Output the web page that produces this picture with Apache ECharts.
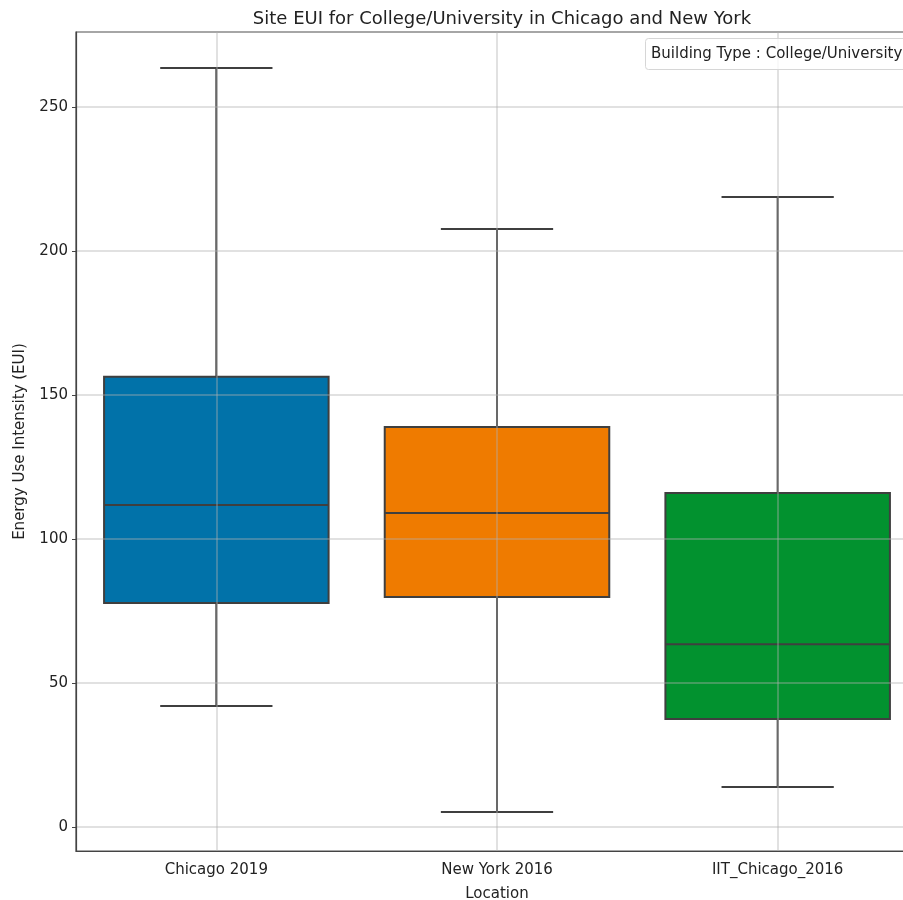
<!DOCTYPE html>
<html>
<head>
<meta charset="utf-8">
<script src="https://cdn.jsdelivr.net/npm/echarts@6/dist/echarts.min.js"></script>
<style>
  html, body { margin: 0; padding: 0; background: #fff; overflow: hidden; }
  #chart { width: 903px; height: 900px; }
</style>
</head>
<body>
<div id="chart"></div>
<script>
// Site EUI box summaries per location
const locations = ['Chicago 2019', 'New York 2016', 'IIT_Chicago_2016'];
const whiskerLow = [42.0, 5.2, 13.9];
const quartile1 = [77.8, 79.9, 37.5];
const medians = [111.8, 109.0, 63.5];
const quartile3 = [156.3, 138.9, 116.0];
const whiskerHigh = [263.5, 207.6, 218.7];
const boxColors = ['#0172a9', '#ef7b00', '#02922f'];

const boxData = locations.map((name, i) => [i, whiskerLow[i], quartile1[i], medians[i], quartile3[i], whiskerHigh[i]]);

const edge = '#3f3f3f';
const font = 'DejaVu Sans';

function renderBox(params, api) {
  const i = api.value(0);
  const band = api.size([1, 0])[0];
  const boxHalf = band * 0.4;
  const capHalf = band * 0.2;
  const pLow = api.coord([i, api.value(1)]);
  const pQ1 = api.coord([i, api.value(2)]);
  const pMed = api.coord([i, api.value(3)]);
  const pQ3 = api.coord([i, api.value(4)]);
  const pHigh = api.coord([i, api.value(5)]);
  const x = pMed[0];
  const lineStyle = { stroke: edge, lineWidth: 2 };
  return {
    type: 'group',
    children: [
      { type: 'line', shape: { x1: x, y1: pQ1[1], x2: x, y2: pLow[1] }, style: lineStyle },
      { type: 'line', shape: { x1: x, y1: pQ3[1], x2: x, y2: pHigh[1] }, style: lineStyle },
      { type: 'line', shape: { x1: x - capHalf, y1: pLow[1], x2: x + capHalf, y2: pLow[1] }, style: lineStyle },
      { type: 'line', shape: { x1: x - capHalf, y1: pHigh[1], x2: x + capHalf, y2: pHigh[1] }, style: lineStyle },
      { type: 'rect', shape: { x: x - boxHalf, y: pQ3[1], width: boxHalf * 2, height: pQ1[1] - pQ3[1] },
        style: { fill: boxColors[i], stroke: edge, lineWidth: 2 } },
      { type: 'line', shape: { x1: x - boxHalf, y1: pMed[1], x2: x + boxHalf, y2: pMed[1] }, style: lineStyle }
    ]
  };
}

const chart = echarts.init(document.getElementById('chart'));
chart.setOption({
  backgroundColor: '#fff',
  animation: false,
  title: [
    {
      text: 'Site EUI for College/University in Chicago and New York',
      left: 497, top: 5, textAlign: 'center',
      textStyle: { fontFamily: font, fontSize: 18, fontWeight: 'normal', color: '#222' }
    },
    {
      text: 'Building Type : College/University',
      left: 645, top: 38,
      padding: [9, 6, 8, 6],
      borderColor: '#d6d6d6', borderWidth: 1, borderRadius: 3,
      backgroundColor: 'rgba(255,255,255,0.8)',
      textStyle: { fontFamily: font, fontSize: 15, fontWeight: 'normal', color: '#222' }
    }
  ],
  grid: {
    left: 76, width: 842, top: 32, bottom: 49,
    outerBoundsMode: 'none',
    containLabel: false,
    show: true, borderColor: '#444', borderWidth: 1.2, backgroundColor: 'transparent'
  },
  xAxis: {
    type: 'category',
    data: locations,
    z: 5,
    name: 'Location',
    nameLocation: 'middle',
    nameGap: 36,
    nameTextStyle: { fontFamily: font, fontSize: 15, color: '#222' },
    axisLine: { onZero: false, lineStyle: { color: '#444', width: 1.2 } },
    axisTick: { alignWithLabel: true, length: 4, lineStyle: { color: '#444' } },
    axisLabel: { fontFamily: font, fontSize: 15, color: '#222', margin: 12 },
    splitLine: { show: true, alignWithLabel: true, lineStyle: { color: 'rgba(176,176,176,0.5)', width: 1.5 } }
  },
  yAxis: {
    type: 'value',
    min: -8.3,
    max: 276,
    z: 5,
    name: 'Energy Use Intensity (EUI)',
    nameLocation: 'middle',
    nameGap: 48,
    nameTextStyle: { fontFamily: font, fontSize: 15, color: '#222' },
    axisLine: { show: true, lineStyle: { color: '#444', width: 1.2 } },
    axisTick: { show: true, length: 4, lineStyle: { color: '#444' } },
    axisLabel: {
      fontFamily: font, fontSize: 15, color: '#222', margin: 8,
      showMinLabel: false, showMaxLabel: false
    },
    splitLine: { show: true, lineStyle: { color: 'rgba(176,176,176,0.5)', width: 1.5 } }
  },
  series: [{
    type: 'custom',
    renderItem: renderBox,
    encode: { x: 0, y: [1, 2, 3, 4, 5] },
    data: boxData,
    z: 2
  }]
});
</script>
</body>
</html>
